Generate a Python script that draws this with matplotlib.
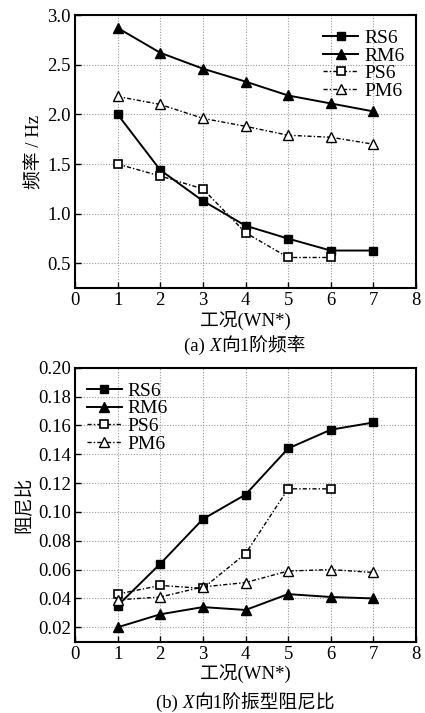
import matplotlib
matplotlib.use("Agg")
import matplotlib.pyplot as plt

plt.rcParams['font.family'] = ['Liberation Serif', 'Noto Sans CJK SC']
plt.rcParams['axes.unicode_minus'] = False

cases = [1, 2, 3, 4, 5, 6, 7]
series_names = ["RS6", "RM6", "PS6", "PM6"]

freq_RS6 = [2.00, 1.44, 1.13, 0.88, 0.75, 0.63, 0.63]
freq_RM6 = [2.87, 2.62, 2.46, 2.33, 2.19, 2.11, 2.03]
freq_PS6 = [1.50, 1.38, 1.25, 0.81, 0.56, 0.56]
freq_PM6 = [2.18, 2.10, 1.96, 1.88, 1.79, 1.77, 1.70]

damp_RS6 = [0.035, 0.064, 0.095, 0.112, 0.144, 0.157, 0.162]
damp_RM6 = [0.020, 0.029, 0.034, 0.032, 0.043, 0.041, 0.040]
damp_PS6 = [0.043, 0.049, 0.047, 0.071, 0.116, 0.116]
damp_PM6 = [0.039, 0.041, 0.048, 0.051, 0.059, 0.060, 0.058]

styles = {
    "RS6": dict(ls='-', marker='s', mfc='black', mec='black', color='black', lw=1.4, ms=6),
    "RM6": dict(ls='-', marker='^', mfc='black', mec='black', color='black', lw=1.4, ms=6.5),
    "PS6": dict(ls=(0, (3, 1.5, 1, 1.5)), marker='s', mfc='white', mec='black', color='black', lw=1.0, ms=5.5, mew=1.2),
    "PM6": dict(ls=(0, (3, 1.5, 1, 1.5)), marker='^', mfc='white', mec='black', color='black', lw=1.0, ms=6.5, mew=1.0),
}

FS = 13.5

fig = plt.figure(figsize=(4.25, 7.13), dpi=100)
ax1 = fig.add_axes([75/425, 1 - 288.3/713, 341/425, (288.3-15)/713])
ax2 = fig.add_axes([75/425, 1 - 641.7/713, 341/425, (641.7-367.7)/713])

def setup(ax, data, ylim, yticks, ylabel, legloc, bbox):
    for name, vals in zip(series_names, data):
        ax.plot(cases[:len(vals)], vals, label=name, **styles[name])
    ax.set_xlim(0, 8)
    ax.set_ylim(*ylim)
    ax.set_xticks(range(0, 9))
    ax.set_yticks(yticks)
    ax.grid(True, ls=(0, (1, 1.5)), color='#999999', lw=0.8)
    ax.tick_params(direction='in', length=4, width=1, labelsize=FS, colors='black', pad=3)
    for s in ax.spines.values():
        s.set_linewidth(1.5)
    ax.set_xlabel("工况(WN*)", fontsize=FS, labelpad=1)
    ax.set_ylabel(ylabel, fontsize=FS, labelpad=3)
    leg = ax.legend(loc=legloc, bbox_to_anchor=bbox, frameon=False, fontsize=14,
                    handlelength=1.8, handletextpad=0.3, labelspacing=0.0, borderaxespad=0.2)
    return leg

setup(ax1, [freq_RS6, freq_RM6, freq_PS6, freq_PM6], (0.25, 3.0),
      [0.5, 1.0, 1.5, 2.0, 2.5, 3.0], "频率 / Hz", 'upper right', (1.0, 0.99))
ax1.set_yticklabels(["0.5", "1.0", "1.5", "2.0", "2.5", "3.0"])
setup(ax2, [damp_RS6, damp_RM6, damp_PS6, damp_PM6], (0.01, 0.20),
      [0.02, 0.04, 0.06, 0.08, 0.10, 0.12, 0.14, 0.16, 0.18, 0.20], "阻尼比", 'upper left', (0.0, 0.99))
ax2.set_yticklabels(["%.2f" % v for v in [0.02, 0.04, 0.06, 0.08, 0.10, 0.12, 0.14, 0.16, 0.18, 0.20]])

def caption(xpix, ypix, prefix, rest):
    t1 = fig.text(xpix/425, 1 - ypix/713, prefix, fontsize=FS, va='center', ha='left')
    a = plt.annotate("X", xy=(1, 0), xycoords=t1, va='bottom', ha='left', fontsize=FS,
                     fontstyle='italic', family='Liberation Serif', annotation_clip=False)
    b = plt.annotate(rest, xy=(1, 0), xycoords=a, va='bottom', ha='left', fontsize=FS,
                     annotation_clip=False)
    return t1, a, b

caption(184, 346.7, "(a) ", "向1阶频率")
caption(156, 703, "(b) ", "向1阶振型阻尼比")

fig.savefig("out.png", dpi=100)
